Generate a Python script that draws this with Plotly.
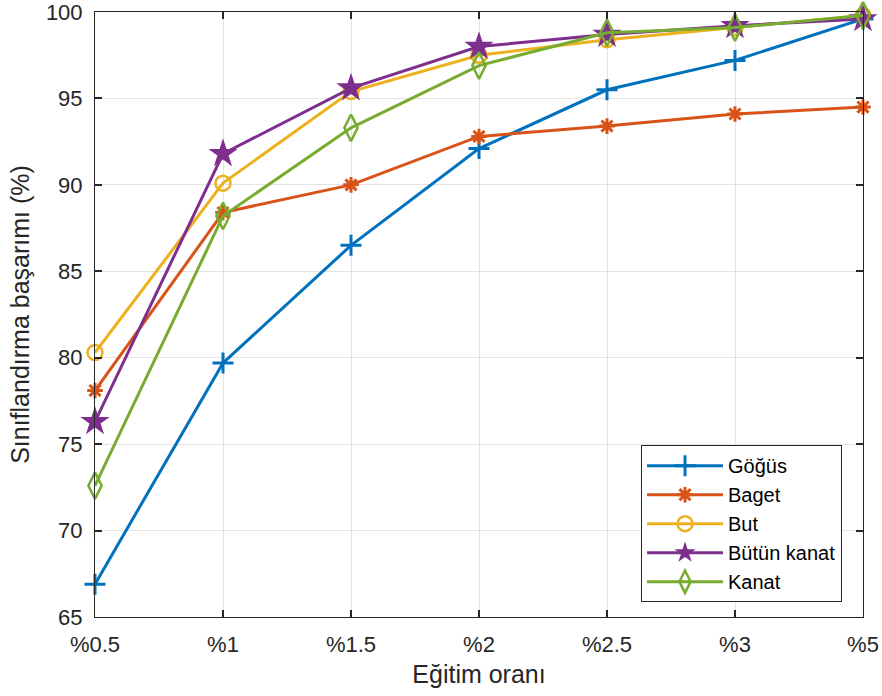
import plotly.graph_objects as go

categories = ["%0.5", "%1", "%1.5", "%2", "%2.5", "%3", "%5"]
gogus = [66.9, 79.7, 86.5, 92.1, 95.5, 97.2, 99.6]
baget = [78.1, 88.4, 90.0, 92.8, 93.4, 94.1, 94.5]
but = [80.3, 90.1, 95.4, 97.5, 98.4, 99.1, 99.8]
butun_kanat = [76.3, 91.8, 95.6, 98.0, 98.7, 99.2, 99.6]
kanat = [72.6, 88.2, 93.3, 96.9, 98.8, 99.1, 99.8]

series = [
    ("Göğüs", gogus, "#0072BD", dict(symbol="cross-thin", size=15, line=dict(width=3, color="#0072BD"))),
    ("Baget", baget, "#D95319", dict(symbol="asterisk", size=13, line=dict(width=3, color="#D95319"))),
    ("But", but, "#EDB120", dict(symbol="circle-open", size=15, line=dict(width=2.5, color="#EDB120"))),
    ("Bütün kanat", butun_kanat, "#7E2F8E", dict(symbol="star", size=22, color="#7E2F8E", line=dict(width=0))),
    ("Kanat", kanat, "#77AC30", dict(symbol="diamond-tall-open", size=19, line=dict(width=2.5, color="#77AC30"))),
]

fig = go.Figure()
for name, vals, col, mk in series:
    fig.add_trace(go.Scatter(
        x=categories, y=vals, name=name, mode="lines+markers",
        line=dict(color=col, width=3), marker=mk, cliponaxis=False,
    ))

axis_common = dict(
    showline=True, linecolor="#262626", linewidth=1, mirror="ticks",
    ticks="inside", ticklen=7, tickwidth=1.5, tickcolor="#262626",
    showgrid=True, gridcolor="#e3e3e3", gridwidth=1, zeroline=False,
    automargin=False, ticklabeloverflow="allow",
    tickfont=dict(family="Liberation Sans, Arial", size=22, color="#262626"),
)

fig.update_layout(
    width=882, height=696,
    margin=dict(l=95, r=19, t=12, b=79),
    paper_bgcolor="white", plot_bgcolor="white",
    font=dict(family="Liberation Sans, Arial", color="#262626"),
    xaxis=dict(axis_common, type="category", range=[0, 6], ticklabelstandoff=8,
               title=dict(text="Eğitim oranı", font=dict(size=25, color="#262626"), standoff=9)),
    yaxis=dict(axis_common, range=[65, 100], tickvals=[65, 70, 75, 80, 85, 90, 95, 100],
               ticklabelstandoff=7,
               title=dict(text="Sınıflandırma başarımı (%)", font=dict(size=25, color="#262626"), standoff=9)),
    legend=dict(x=0.9727, y=0.284, xanchor="right", yanchor="top",
                bordercolor="#262626", borderwidth=1, bgcolor="white",
                font=dict(size=20, color="#000000"), itemwidth=76,
                tracegroupgap=0),
    showlegend=True,
)

fig.write_html("out.html")
